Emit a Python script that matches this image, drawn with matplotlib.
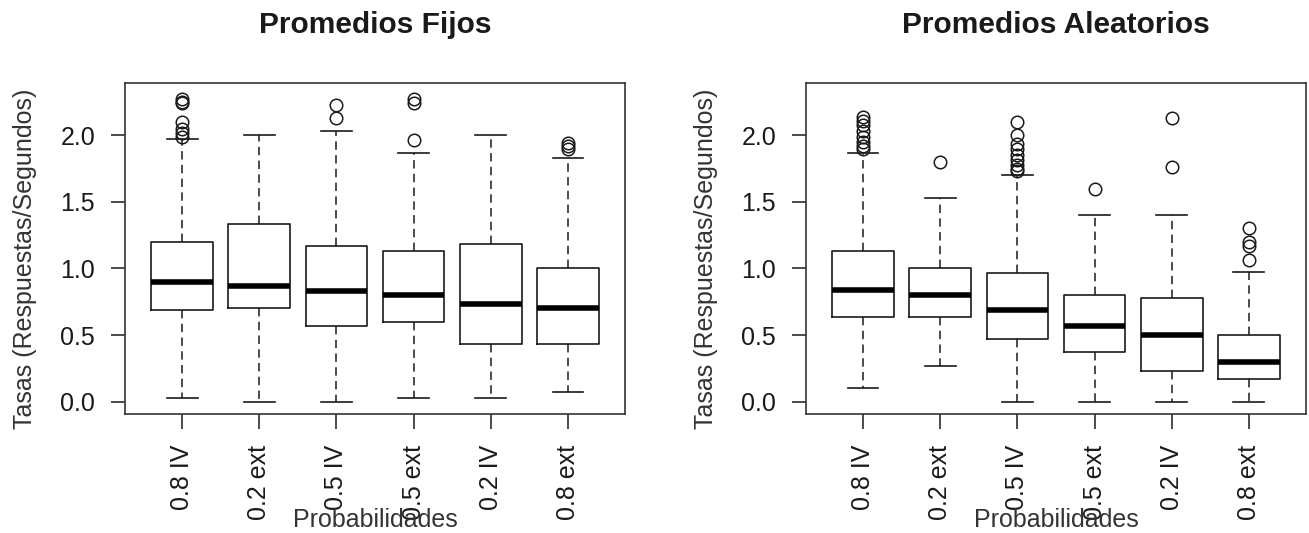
import numpy as np
import matplotlib
matplotlib.use("Agg")
import matplotlib.pyplot as plt

plt.rcParams['font.family'] = ['Liberation Sans', 'DejaVu Sans']

# categories (same order in both panels)
categorias = ['0.8 IV', '0.2 ext', '0.5 IV', '0.5 ext', '0.2 IV', '0.8 ext']

# Promedios Fijos: five-number summaries per category
fijos_whislo = [0.03, 0.00, 0.00, 0.03, 0.03, 0.07]
fijos_q1     = [0.69, 0.70, 0.57, 0.60, 0.43, 0.43]
fijos_med    = [0.90, 0.865, 0.83, 0.80, 0.73, 0.70]
fijos_q3     = [1.20, 1.33, 1.165, 1.13, 1.18, 1.00]
fijos_whishi = [1.97, 2.00, 2.03, 1.87, 2.00, 1.83]
fijos_out = [
    [2.27, 2.25, 2.24, 2.10, 2.05, 2.02, 1.99],
    [],
    [2.23, 2.13],
    [2.27, 2.245, 1.965],
    [],
    [1.94, 1.92, 1.90],
]

# Promedios Aleatorios
alea_whislo = [0.10, 0.27, 0.00, 0.00, 0.00, 0.00]
alea_q1     = [0.635, 0.635, 0.47, 0.37, 0.23, 0.17]
alea_med    = [0.835, 0.80, 0.685, 0.57, 0.50, 0.30]
alea_q3     = [1.13, 1.00, 0.965, 0.80, 0.78, 0.50]
alea_whishi = [1.87, 1.53, 1.70, 1.40, 1.40, 0.97]
alea_out = [
    [2.14, 2.11, 2.08, 2.03, 1.99, 1.95, 1.92, 1.895],
    [1.80],
    [2.10, 2.00, 1.935, 1.90, 1.85, 1.815, 1.78, 1.75, 1.73],
    [1.60],
    [2.13, 1.765],
    [1.30, 1.20, 1.17, 1.065],
]

ink = '#1a1a1a'
fs = 18


def stats_list(whislo, q1, med, q3, whishi, out):
    res = []
    for i in range(len(med)):
        res.append(dict(whislo=whislo[i], q1=q1[i], med=med[i], q3=q3[i],
                        whishi=whishi[i], fliers=np.array(out[i])))
    return res


def draw_panel(ax, stats, titulo):
    pos = np.arange(1, len(stats) + 1)
    ax.bxp(stats, positions=pos, widths=0.8, capwidths=0.4,
           boxprops=dict(color=ink, linewidth=1.2),
           medianprops=dict(color='black', linewidth=4.0, solid_capstyle='butt'),
           whiskerprops=dict(color=ink, linewidth=1.1, linestyle=(0, (5.5, 3.5))),
           capprops=dict(color=ink, linewidth=1.2),
           flierprops=dict(marker='o', markerfacecolor='none', markeredgecolor=ink,
                           markersize=9, markeredgewidth=1.1))
    ax.set_xlim(0.26, 6.74)
    ax.set_ylim(-0.092, 2.392)
    ax.set_yticks([0.0, 0.5, 1.0, 1.5, 2.0])
    ax.set_yticklabels(['0.0', '0.5', '1.0', '1.5', '2.0'])
    ax.set_xticks(pos)
    ax.set_xticklabels(categorias, rotation=90)
    ax.tick_params(axis='y', length=10, width=1.1, pad=11.5, labelsize=fs, colors=ink)
    ax.tick_params(axis='x', length=11, width=1.1, pad=11, labelsize=fs, colors=ink)
    for s in ax.spines.values():
        s.set_color('#333333')
        s.set_linewidth(1.2)
    ax.set_title(titulo, fontsize=21.5, fontweight='bold', pad=36, color=ink)
    ax.set_xlabel('Probabilidades', fontsize=fs, color='#333333')
    ax.xaxis.set_label_coords(0.5, -0.285)
    ax.set_ylabel('Tasas (Respuestas/Segundos)', fontsize=fs, color='#333333')
    ax.yaxis.set_label_coords(-0.176, 0.47)


fig = plt.figure(figsize=(13.09, 5.33), dpi=100)
ax1 = fig.add_axes([0.0955, 0.2233, 0.382, 0.621])
ax2 = fig.add_axes([0.6157, 0.2233, 0.382, 0.621])

draw_panel(ax1, stats_list(fijos_whislo, fijos_q1, fijos_med, fijos_q3,
                           fijos_whishi, fijos_out), 'Promedios Fijos')
draw_panel(ax2, stats_list(alea_whislo, alea_q1, alea_med, alea_q3,
                           alea_whishi, alea_out), 'Promedios Aleatorios')

fig.savefig('out.png', dpi=100)
